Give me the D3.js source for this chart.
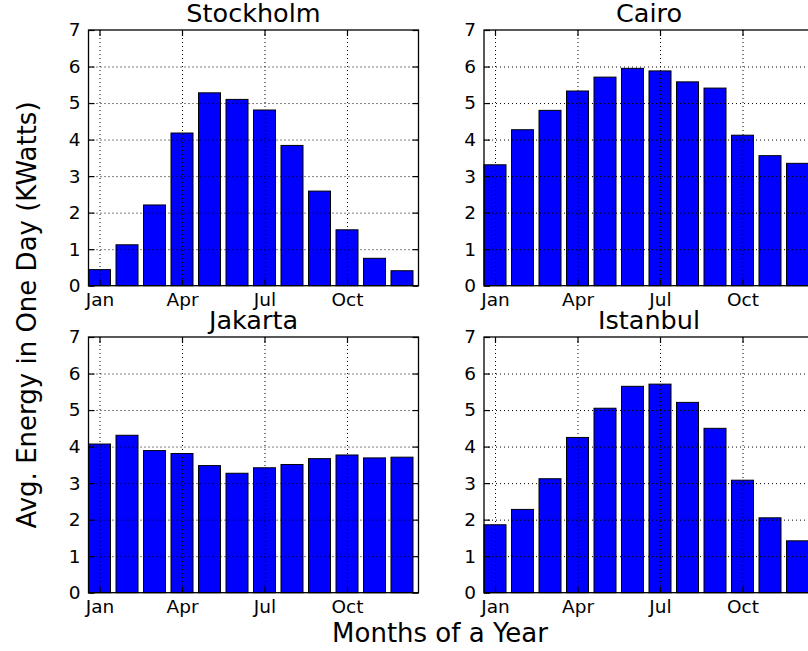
<!DOCTYPE html>
<html>
<head>
<meta charset="utf-8">
<script src="https://cdn.jsdelivr.net/npm/d3@7"></script>
<style>
  body { margin: 0; background: #fff; }
  svg { display: block; font-family: "DejaVu Sans", sans-serif; }
</style>
</head>
<body>
<div id="chart"></div>
<script>
// data
const months = ["Jan", "Feb", "Mar", "Apr", "May", "Jun", "Jul", "Aug", "Sep", "Oct", "Nov", "Dec"];
const tickMonths = [0, 3, 6, 9];
const yTicks = [0, 1, 2, 3, 4, 5, 6, 7];
const cities = ["Stockholm", "Cairo", "Jakarta", "Istanbul"];

const stockholm = [0.44, 1.12, 2.21, 4.18, 5.28, 5.10, 4.81, 3.84, 2.59, 1.53, 0.75, 0.41];
const cairo     = [3.31, 4.27, 4.80, 5.33, 5.71, 5.95, 5.88, 5.58, 5.41, 4.12, 3.56, 3.35];
const jakarta   = [4.07, 4.31, 3.89, 3.81, 3.48, 3.27, 3.42, 3.51, 3.67, 3.77, 3.69, 3.71];
const istanbul  = [1.86, 2.28, 3.12, 4.25, 5.05, 5.65, 5.71, 5.21, 4.50, 3.08, 2.05, 1.42];

const seriesList = [stockholm, cairo, jakarta, istanbul];

const width = 808, height = 651;
const panelW = 330, panelH = 255.7;
const colLeft = [88.5, 484];
const rowTop = [30, 337];

const svg = d3.select("#chart")
    .append("svg")
    .attr("width", width)
    .attr("height", height);

const x = d3.scaleLinear()
    .domain([-0.4, 11.6])
    .range([0, panelW]);

const y = d3.scaleLinear()
    .domain([0, 7])
    .range([panelH, 0]);

const barW = x(0.4) - x(-0.4);

seriesList.forEach((values, k) => {
    const left = colLeft[k % 2];
    const top = rowTop[Math.floor(k / 2)];

    const g = svg.append("g")
        .attr("transform", `translate(${left},${top})`);

    // bars
    g.selectAll(".bar")
        .data(values)
        .enter().append("rect")
        .attr("class", "bar")
        .attr("x", (d, i) => x(i - 0.4))
        .attr("y", d => y(d))
        .attr("width", barW)
        .attr("height", d => panelH - y(d))
        .attr("fill", "#0000ff")
        .attr("stroke", "#000")
        .attr("stroke-width", 1);

    // grid (drawn on top of bars, like the classic style)
    g.append("g")
        .attr("class", "grid-x")
        .call(d3.axisBottom(x).tickValues(tickMonths).tickSize(panelH).tickFormat(""))
        .call(a => a.select(".domain").remove());

    g.append("g")
        .attr("class", "grid-y")
        .call(d3.axisLeft(y).tickValues(yTicks.slice(1, -1)).tickSize(-panelW).tickFormat(""))
        .call(a => a.select(".domain").remove());

    g.selectAll(".grid-x line, .grid-y line")
        .attr("stroke", "#000")
        .attr("stroke-width", 1)
        .attr("stroke-dasharray", "1,3");

    // axes with inward ticks
    const xAxis = d3.axisBottom(x)
        .tickValues(tickMonths)
        .tickFormat(i => months[i])
        .tickSize(-6)
        .tickPadding(7);

    const yAxis = d3.axisLeft(y)
        .tickValues(yTicks)
        .tickFormat(d3.format("d"))
        .tickSize(-6)
        .tickPadding(8);

    g.append("g")
        .attr("class", "x-axis")
        .attr("transform", `translate(0,${panelH})`)
        .call(xAxis);

    g.append("g")
        .attr("class", "y-axis")
        .call(yAxis);

    g.append("g")
        .attr("class", "x-axis-top")
        .call(d3.axisTop(x).tickValues(tickMonths).tickSize(-6).tickFormat(""));

    g.append("g")
        .attr("class", "y-axis-right")
        .attr("transform", `translate(${panelW},0)`)
        .call(d3.axisRight(y).tickValues(yTicks).tickSize(-6).tickFormat(""));

    g.selectAll(".domain").remove();
    g.selectAll(".x-axis line, .y-axis line, .x-axis-top line, .y-axis-right line")
        .attr("stroke", "#000")
        .attr("stroke-width", 1.2);

    g.selectAll(".x-axis text, .y-axis text")
        .attr("fill", "#000")
        .style("font-size", "18.5px")
        .style("font-family", "DejaVu Sans, sans-serif");

    // frame
    g.append("rect")
        .attr("width", panelW)
        .attr("height", panelH)
        .attr("fill", "none")
        .attr("stroke", "#000")
        .attr("stroke-width", 1.3);

    g.append("text")
        .attr("class", "title")
        .attr("x", panelW / 2)
        .attr("y", -8)
        .attr("text-anchor", "middle")
        .style("font-size", "25.5px")
        .text(cities[k]);
});

svg.append("text")
    .attr("class", "x-label")
    .attr("x", 440)
    .attr("y", 642)
    .attr("text-anchor", "middle")
    .style("font-size", "26px")
    .text("Months of a Year");

svg.append("text")
    .attr("class", "y-label")
    .attr("text-anchor", "middle")
    .attr("transform", "translate(36,315) rotate(-90)")
    .style("font-size", "26px")
    .text("Avg. Energy in One Day (KWatts)");
</script>
</body>
</html>
